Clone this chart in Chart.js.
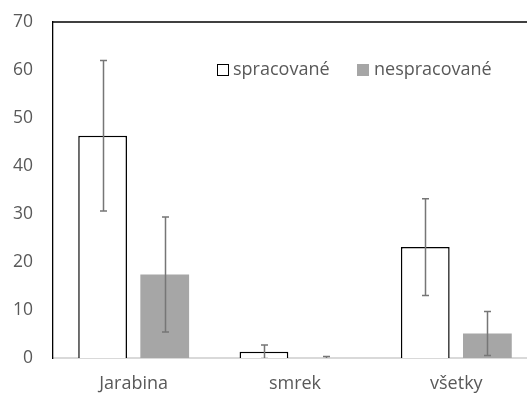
<!DOCTYPE html>
<html>
<head>
<meta charset="utf-8">
<script src="https://cdn.jsdelivr.net/npm/chart.js@4/dist/chart.umd.min.js"></script>
<style>
  html, body { margin: 0; padding: 0; background: #fff; overflow: hidden; }
  #wrap { width: 537px; height: 396px; position: relative; }
</style>
</head>
<body>
<div id="wrap"><canvas id="chart"></canvas></div>
<script>
// Data
const categories = ['Jarabina', 'smrek', 'všetky'];
const spracovane = [46.3, 1.3, 23.1];
const spracovaneErr = [15.7, 1.4, 10.1];
const nespracovane = [17.4, 0, 5.1];
const nespracovaneErr = [12.0, 0.3, 4.6];
const seriesNames = ['spracované', 'nespracované'];
const yTicks = [0, 10, 20, 30, 40, 50, 60, 70];

const FONT = '"Open Sans", "DejaVu Sans", sans-serif';
const TEXT_COLOR = '#595959';

// Error bars, drawn through the y scale
const errorBars = {
    id: 'errorBars',
    afterDatasetsDraw(chart) {
        const ctx = chart.ctx;
        const y = chart.scales.y;
        const area = chart.chartArea;
        ctx.save();
        ctx.beginPath();
        ctx.rect(area.left, area.top, area.right - area.left, area.bottom - area.top);
        ctx.clip();
        ctx.strokeStyle = '#767676';
        ctx.lineWidth = 1.5;
        chart.data.datasets.forEach((ds, di) => {
            const meta = chart.getDatasetMeta(di);
            meta.data.forEach((bar, i) => {
                const v = ds.data[i];
                const e = ds.errors[i];
                const top = y.getPixelForValue(v + e);
                const bot = y.getPixelForValue(v - e);
                const x = Math.round(bar.x) + 0.5;
                ctx.beginPath();
                ctx.moveTo(x, top);
                ctx.lineTo(x, bot);
                ctx.moveTo(x - 3.5, top);
                ctx.lineTo(x + 3.5, top);
                ctx.moveTo(x - 3.5, bot);
                ctx.lineTo(x + 3.5, bot);
                ctx.stroke();
            });
        });
        ctx.restore();
    }
};

// Top border of the plot area and legend inside it
const frameAndLegend = {
    id: 'frameAndLegend',
    afterDraw(chart) {
        const ctx = chart.ctx;
        const area = chart.chartArea;
        ctx.save();
        ctx.strokeStyle = '#000';
        ctx.lineWidth = 1.3;
        ctx.beginPath();
        ctx.moveTo(area.left, area.top);
        ctx.lineTo(area.right, area.top);
        ctx.stroke();

        ctx.font = '18px ' + FONT;
        ctx.textBaseline = 'middle';
        // spracované
        ctx.fillStyle = '#fff';
        ctx.fillRect(217.5, 64.5, 11, 11);
        ctx.strokeStyle = '#000';
        ctx.lineWidth = 1;
        ctx.strokeRect(217.5, 64.5, 11, 11);
        ctx.fillStyle = TEXT_COLOR;
        ctx.fillText(seriesNames[0], 233, 70);
        // nespracované
        ctx.fillStyle = '#a6a6a6';
        ctx.fillRect(357, 64, 12, 12);
        ctx.fillStyle = TEXT_COLOR;
        ctx.fillText(seriesNames[1], 374, 70);
        ctx.restore();
    }
};

new Chart(document.getElementById('chart').getContext('2d'), {
    type: 'bar',
    data: {
        labels: categories,
        datasets: [{
            label: seriesNames[0],
            data: spracovane,
            errors: spracovaneErr,
            backgroundColor: '#ffffff',
            borderColor: '#000000',
            borderWidth: 1.5,
            categoryPercentage: 0.77,
            barPercentage: 0.785
        }, {
            label: seriesNames[1],
            data: nespracovane,
            errors: nespracovaneErr,
            backgroundColor: '#a6a6a6',
            borderWidth: 0,
            categoryPercentage: 0.77,
            barPercentage: 0.785
        }]
    },
    options: {
        responsive: true,
        maintainAspectRatio: false,
        animation: false,
        layout: { padding: { top: 22, right: 0, left: 0, bottom: 0 } },
        plugins: {
            legend: { display: false },
            tooltip: { enabled: false }
        },
        scales: {
            x: {
                grid: { display: false, drawTicks: false },
                border: { color: '#d9d9d9', width: 2 },
                ticks: { color: TEXT_COLOR, font: { family: FONT, size: 18 }, padding: 15 },
                afterFit: (scale) => { scale.height = 38; scale.paddingLeft = 0; scale.paddingRight = 0; }
            },
            y: {
                min: 0,
                max: 70,
                grid: { display: false, drawTicks: false },
                border: { color: '#000', width: 1.3 },
                afterBuildTicks: (scale) => { scale.ticks = yTicks.map(v => ({ value: v })); },
                ticks: { color: TEXT_COLOR, font: { family: FONT, size: 17.5 }, padding: 20 },
                afterFit: (scale) => { scale.width = 53; scale.paddingTop = 0; scale.paddingBottom = 0; }
            }
        }
    },
    plugins: [errorBars, frameAndLegend]
});
</script>
</body>
</html>
